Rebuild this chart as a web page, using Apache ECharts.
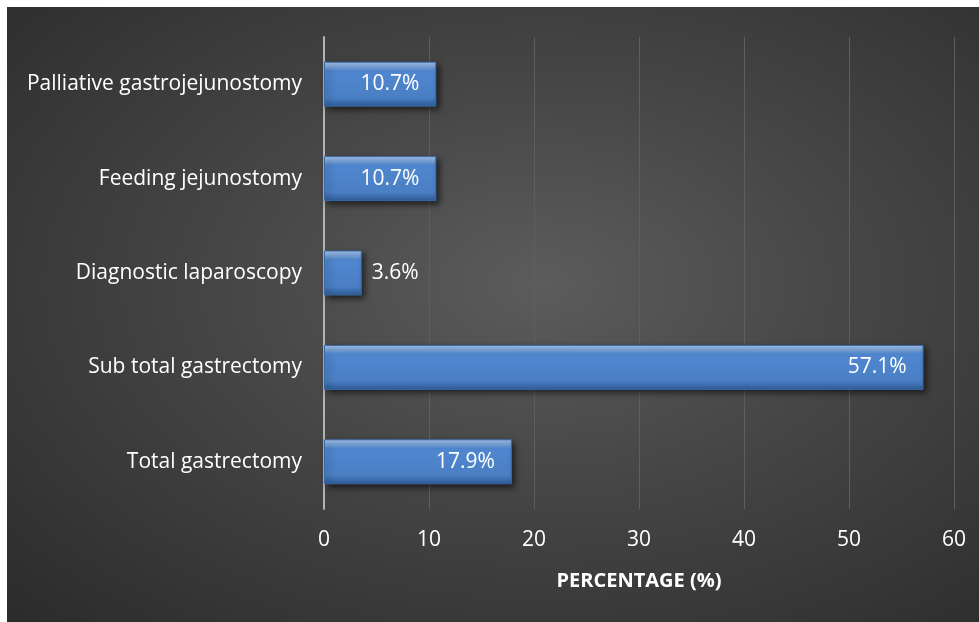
<!DOCTYPE html>
<html>
<head>
<meta charset="utf-8">
<script src="https://cdn.jsdelivr.net/npm/echarts@6/dist/echarts.min.js"></script>
<style>
html,body{margin:0;padding:0;background:#ffffff;}
#chart{position:absolute;left:7px;top:7px;width:972px;height:615px;
background:radial-gradient(ellipse at 55% 45%, #5c5c5c 0%, #474747 40%, #2b2b2b 100%);}
</style>
</head>
<body>
<div id="chart"></div>
<script>
const categories = ['Total gastrectomy','Sub total gastrectomy','Diagnostic laparoscopy','Feeding jejunostomy','Palliative gastrojejunostomy'];
const values = [17.9, 57.1, 3.6, 10.7, 10.7];
const xTicks = [0,10,20,30,40,50,60];

const chart = echarts.init(document.getElementById('chart'));
const font = '"Open Sans", "Noto Sans", sans-serif';
chart.setOption({
  backgroundColor: 'transparent',
  animation: false,
  grid: {left: 317, right: 25, top: 30, bottom: 113, containLabel: false},
  xAxis: {
    type: 'value', min: 0, max: 60, interval: 10,
    name: 'PERCENTAGE (%)', nameLocation: 'middle', nameGap: 62,
    nameTextStyle: {color: '#ffffff', fontSize: 20, fontWeight: 'bold', fontFamily: font},
    axisLine: {show: false}, axisTick: {show: false},
    axisLabel: {color: '#ffffff', fontSize: 21, fontFamily: font, margin: 21,
      formatter: v => xTicks.includes(v) ? String(v) : ''},
    splitLine: {show: true, lineStyle: {color: '#5e5e5e', width: 1}}
  },
  yAxis: {
    type: 'category', data: categories,
    axisLine: {show: true, lineStyle: {color: '#b3b3b3', width: 2}},
    axisTick: {show: false},
    axisLabel: {color: '#ffffff', fontSize: 21, fontFamily: font, margin: 22}
  },
  series: [{
    type: 'bar', data: values.map(v => ({
      value: v,
      label: {show: true, position: v < 5 ? 'right' : 'insideRight', distance: v < 5 ? 10 : 17}
    })),
    barWidth: 45,
    label: {color: '#ffffff', fontSize: 21, fontFamily: font, formatter: p => p.value.toFixed(1) + '%'},
    itemStyle: {
      color: new echarts.graphic.LinearGradient(0,0,0,1,[
        {offset:0, color:'#a9c8ee'},
        {offset:0.12, color:'#7aa5dc'},
        {offset:0.2, color:'#5087cf'},
        {offset:0.8, color:'#4a7fc4'},
        {offset:1, color:'#2f5c98'}
      ]),
      borderColor: '#3a67a5', borderWidth: 1,
      shadowColor: 'rgba(0,0,0,0.6)', shadowBlur: 6, shadowOffsetX: 3, shadowOffsetY: 3
    }
  }]
});
</script>
</body>
</html>
